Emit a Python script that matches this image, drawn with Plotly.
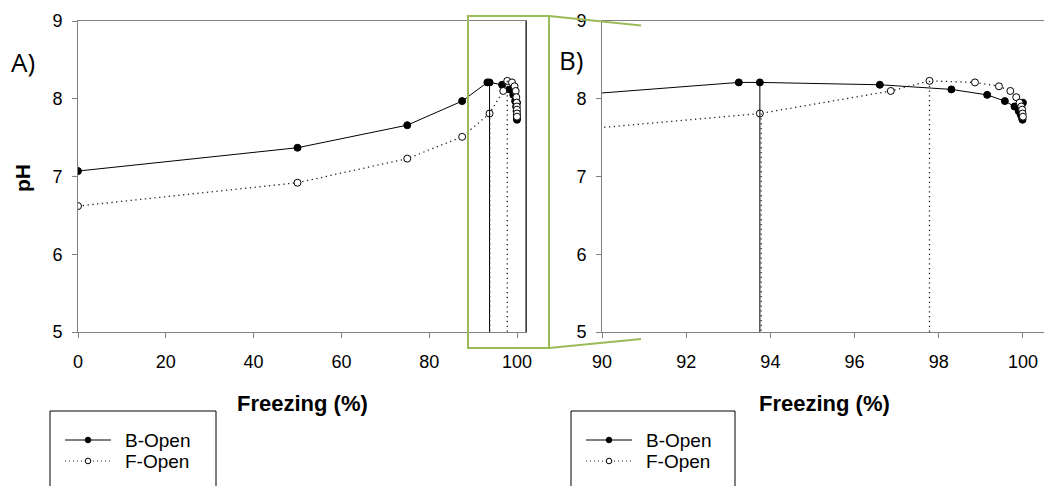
import plotly.graph_objects as go

# ---------------- data ----------------
b_x = [0, 50, 75, 87.5, 93.25, 93.75, 96.6, 98.3, 99.15, 99.57, 99.8, 99.9, 99.95, 99.98, 99.99, 100.0]
b_y = [7.07, 7.37, 7.66, 7.97, 8.21, 8.21, 8.18, 8.12, 8.05, 7.97, 7.90, 7.84, 7.79, 7.75, 7.73, 7.95]

f_x = [0, 50, 75, 87.5, 93.75, 96.86, 97.78, 98.86, 99.43, 99.70, 99.84, 99.92, 99.96, 99.98, 99.99, 100.0]
f_y = [6.62, 6.92, 7.23, 7.51, 7.81, 8.10, 8.23, 8.21, 8.16, 8.10, 8.02, 7.95, 7.90, 7.86, 7.81, 7.77]

# drop lines (x position, top value), down to the axis floor
b_drop = [(93.75, 8.21)]
f_drop = [(93.78, 7.81), (97.78, 8.23)]
y_floor = 5

series_names = ["B-Open", "F-Open"]
x_ticks_a = [0, 20, 40, 60, 80, 100]
x_ticks_b = [90, 92, 94, 96, 98, 100]
y_ticks = [5, 6, 7, 8, 9]

W, H = 1044, 486
def px(x): return x / W
def py(y): return 1 - y / H

FONT = "Liberation Sans, Arial, sans-serif"
GREEN = "#9BBB59"
AXC = "#808080"
DOT = "1.3px,3.5px"

fig = go.Figure()

panels = [("x", "y"), ("x2", "y2")]
for xa, ya in panels:
    fig.add_trace(go.Scatter(
        x=b_x, y=b_y, mode="lines+markers", name=series_names[0],
        xaxis=xa, yaxis=ya, showlegend=False,
        line=dict(color="black", width=1),
        marker=dict(symbol="circle", size=7, color="black", line=dict(color="black", width=1))))
    fig.add_trace(go.Scatter(
        x=f_x, y=f_y, mode="lines+markers", name=series_names[1],
        xaxis=xa, yaxis=ya, showlegend=False,
        line=dict(color="#222222", width=1.3, dash=DOT),
        marker=dict(symbol="circle", size=7, color="white", line=dict(color="black", width=1))))
    for (dx, dy) in b_drop:
        fig.add_trace(go.Scatter(x=[dx, dx], y=[dy, y_floor], mode="lines", xaxis=xa, yaxis=ya,
                                 showlegend=False, hoverinfo="skip",
                                 line=dict(color="black", width=1)))
    for (dx, dy) in f_drop:
        fig.add_trace(go.Scatter(x=[dx, dx], y=[dy, y_floor], mode="lines", xaxis=xa, yaxis=ya,
                                 showlegend=False, hoverinfo="skip",
                                 line=dict(color="#222222", width=1.3, dash=DOT)))

tickfont = dict(family=FONT, size=18, color="black")
common_x = dict(showgrid=False, zeroline=False, showline=True, linecolor=AXC, linewidth=1,
                ticks="outside", ticklen=5, tickcolor=AXC, tickfont=tickfont,
                ticklabelstandoff=8, mirror=True, automargin=False)
common_y = dict(showgrid=False, zeroline=False, showline=True, linecolor=AXC, linewidth=1,
                ticks="outside", ticklen=5, tickcolor=AXC, tickfont=tickfont,
                range=[5, 9], tickvals=y_ticks, ticklabelstandoff=6, automargin=False)

fig.update_layout(
    width=W, height=H, margin=dict(l=0, r=0, t=0, b=0),
    paper_bgcolor="white", plot_bgcolor="white",
    xaxis=dict(common_x, domain=[px(78), px(526)], range=[0, 102.05], tickvals=x_ticks_a, anchor="y"),
    yaxis=dict(common_y, domain=[py(332), py(21)], anchor="x", mirror=True),
    xaxis2=dict(common_x, domain=[px(602), 1.0], range=[90, 100.5], tickvals=x_ticks_b, anchor="y2"),
    yaxis2=dict(common_y, domain=[py(332), py(21)], anchor="x2"),
    showlegend=False,
)

shapes = [
    # right frame of panel A in black
    dict(type="line", xref="x domain", yref="y domain", x0=1, x1=1, y0=0, y1=1,
         line=dict(color="black", width=1)),
    # zoom box
    dict(type="rect", xref="paper", yref="paper", x0=px(468), x1=px(549), y0=py(348), y1=py(16),
         line=dict(color=GREEN, width=2)),
    dict(type="line", xref="paper", yref="paper", x0=px(549), x1=px(641), y0=py(16), y1=py(25.5),
         line=dict(color=GREEN, width=2)),
    dict(type="line", xref="paper", yref="paper", x0=px(549), x1=px(641), y0=py(348), y1=py(339),
         line=dict(color=GREEN, width=2)),
]

annotations = [
    dict(text="A)", x=px(9), y=py(62), xanchor="left", yanchor="middle",
         font=dict(family="Open Sans, sans-serif", size=26, color="black")),
    dict(text="B)", x=px(557), y=py(60), xanchor="left", yanchor="middle",
         font=dict(family="Open Sans, sans-serif", size=26, color="black")),
    dict(text="<b>pH</b>", x=px(22), y=py(178), xanchor="center", yanchor="middle", textangle=-90,
         font=dict(family=FONT, size=21, color="black")),
    dict(text="<b>Freezing (%)</b>", x=px(302), y=py(403), xanchor="center", yanchor="middle",
         font=dict(family=FONT, size=22, color="black")),
    dict(text="<b>Freezing (%)</b>", x=px(824), y=py(403), xanchor="center", yanchor="middle",
         font=dict(family=FONT, size=22, color="black")),
]

# legends (frame with cropped bottom, key line + marker, label)
for bx0, bx1 in [(50, 216), (571, 735)]:
    shapes.append(dict(type="path", xref="paper", yref="paper",
                       path=f"M {px(bx0)},{py(490)} L {px(bx0)},{py(411)} L {px(bx1)},{py(411)} L {px(bx1)},{py(490)}",
                       line=dict(color="black", width=1)))
    kx0, kx1 = bx0 + 15, bx0 + 61
    kc = (kx0 + kx1) / 2
    for i, (name, ky) in enumerate(zip(series_names, [440, 461])):
        if i == 0:
            shapes.append(dict(type="line", xref="paper", yref="paper", x0=px(kx0), x1=px(kx1),
                               y0=py(ky), y1=py(ky), line=dict(color="black", width=1)))
            shapes.append(dict(type="circle", xref="paper", yref="paper",
                               x0=px(kc - 2.8), x1=px(kc + 2.8), y0=py(ky + 2.8), y1=py(ky - 2.8),
                               fillcolor="black", line=dict(color="black", width=1)))
        else:
            shapes.append(dict(type="line", xref="paper", yref="paper", x0=px(kx0), x1=px(kx1),
                               y0=py(ky), y1=py(ky), line=dict(color="#222222", width=1, dash="1px,3px")))
            shapes.append(dict(type="circle", xref="paper", yref="paper",
                               x0=px(kc - 2.8), x1=px(kc + 2.8), y0=py(ky + 2.8), y1=py(ky - 2.8),
                               fillcolor="white", line=dict(color="black", width=1)))
        annotations.append(dict(text=name, x=px(bx0 + 73), y=py(ky), xanchor="left", yanchor="middle",
                                font=dict(family=FONT, size=19, color="black")))

for a in annotations:
    a.update(xref="paper", yref="paper", showarrow=False)
fig.update_layout(shapes=shapes, annotations=annotations)

fig.write_html("out.html")
